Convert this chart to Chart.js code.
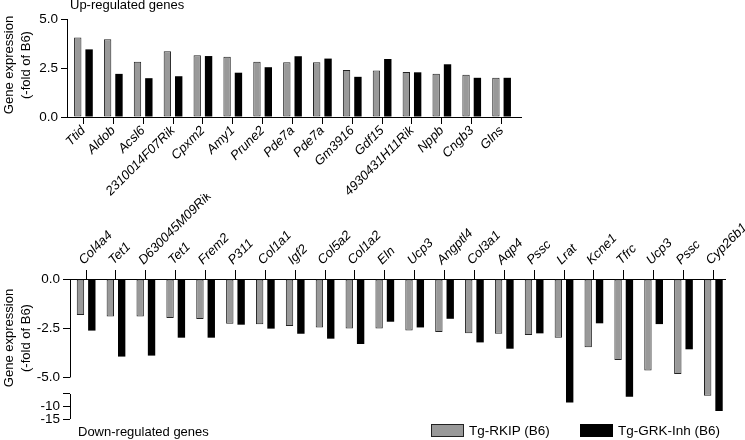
<!DOCTYPE html>
<html lang="en">
<head>
<meta charset="UTF-8">
<title>Up- and down-regulated genes</title>
<style>
  body { margin: 0; background: #fff; font-family: 'Liberation Sans', Arial, sans-serif; }
  .wrap { position: relative; width: 745px; height: 440px; overflow: hidden; }
  canvas { position: absolute; left: 0; top: 0; }
  .note { position: absolute; font-size: 13px; line-height: 15px; white-space: nowrap; color: #000; }
  .ytitle { position: absolute; width: 140px; height: 34px; font-size: 13px; line-height: 17px;
            text-align: center; white-space: nowrap; transform: rotate(-90deg); }
  .key { position: absolute; top: 423px; display: flex; align-items: center; font-size: 13.5px; line-height: 15px; white-space: nowrap; }
  .swatch { width: 31px; height: 11px; border: 1px solid #222; margin-right: 5px; }
</style>
<script src="https://cdn.jsdelivr.net/npm/chart.js"></script>
</head>
<body>
<div class="wrap">
  <canvas id="up" width="745" height="440"></canvas>
  <canvas id="down" width="745" height="440"></canvas>
  <div class="note" style="left:70px; top:-3px">Up-regulated genes</div>
  <div class="note" style="left:78px; top:424px">Down-regulated genes</div>
  <div class="ytitle" style="left:-53px; top:48px">Gene expression<br>(-fold of B6)</div>
  <div class="ytitle" style="left:-53px; top:321px">Gene expression<br>(-fold of B6)</div>
  <div class="key" style="left:431px"><span class="swatch" style="background:#999"></span>Tg-RKIP (B6)</div>
  <div class="key" style="left:580px"><span class="swatch" style="background:#000; border-color:#000"></span>Tg-GRK-Inh (B6)</div>
</div>

<script>
// up-regulated panel
const upGenes = ['Ttid', 'Aldob', 'Acsl6', '2310014F07Rik', 'Cpxm2', 'Amy1', 'Prune2', 'Pde7a', 'Pde7a',
  'Gm3916', 'Gdf15', '4930431H11Rik', 'Nppb', 'Cngb3', 'Glns'];
const upRkip = [4.06, 3.97, 2.82, 3.35, 3.15, 3.08, 2.82, 2.79, 2.79, 2.40, 2.37, 2.30, 2.21, 2.15, 2.00];
const upGrk = [3.45, 2.20, 1.98, 2.08, 3.11, 2.26, 2.54, 3.10, 2.98, 2.05, 2.96, 2.28, 2.69, 2.00, 2.00];
const upTicks = [0, 2.5, 5];
const upTickLabels = ['0.0', '2.5', '5.0'];

// down-regulated panel
const downGenes = ['Col4a4', 'Tet1', 'D630045M09Rik', 'Tet1', 'Frem2', 'P311', 'Col1a1', 'Igf2', 'Col5a2',
  'Col1a2', 'Eln', 'Ucp3', 'Angptl4', 'Col3a1', 'Aqp4', 'Pssc', 'Lrat', 'Kcne1', 'Tfrc', 'Ucp3', 'Pssc', 'Cyp26b1'];
const downRkip = [-1.83, -1.91, -1.91, -1.98, -2.03, -2.27, -2.30, -2.39, -2.46, -2.52, -2.52, -2.62, -2.69,
  -2.76, -2.78, -2.84, -2.98, -3.47, -4.11, -4.65, -4.82, -5.7];
const downGrk = [-2.62, -3.94, -3.89, -2.98, -2.98, -2.32, -2.52, -2.78, -3.03, -3.30, -2.17, -2.46, -2.02,
  -3.22, -3.54, -2.76, -8.4, -2.25, -6.1, -2.29, -3.57, -11.8];
const downTicks = [0, -2.5, -5, -10, -15];
const downTickLabels = ['0.0', '-2.5', '-5.0', '-10', '-15'];

// broken y axis: linear down to -5, a blank gap, then a squeezed -5..-15 segment
const BREAK_AT = -5;
const GAP = 0.84;
const LOW_K = 0.127;
const toAxis = v => v >= BREAK_AT ? v : BREAK_AT - GAP - (BREAK_AT - v) * LOW_K;
const fromAxis = d => d >= BREAK_AT ? d : BREAK_AT - (BREAK_AT - GAP - d) / LOW_K;

class BrokenScale extends Chart.LinearScale {
  getPixelForValue(v) { return super.getPixelForValue(v === null ? null : toAxis(v)); }
  getValueForPixel(p) { return fromAxis(super.getValueForPixel(p)); }
}
BrokenScale.id = 'broken';
BrokenScale.defaults = Chart.LinearScale.defaults;
Chart.register(BrokenScale);

const FONT = "'Liberation Sans', Arial, sans-serif";
const GRAY = '#999999';
const pts = arr => arr.map((v, i) => ({ x: i, y: v }));

function datasets(a, b) {
  return [
    { label: 'Tg-RKIP (B6)', data: pts(a), backgroundColor: GRAY, borderColor: '#222', borderWidth: 1, borderSkipped: false },
    { label: 'Tg-GRK-Inh (B6)', data: pts(b), backgroundColor: '#000', borderColor: '#000', borderWidth: 0 }
  ];
}

function xAxis(genes, min, max, pos, height, tick, pad, shift) {
  return {
    type: 'linear', position: pos, min: min, max: max, offset: false,
    afterBuildTicks: s => { s.ticks = genes.map((g, i) => ({ value: i })); },
    afterFit: s => { s.height = height; s.paddingLeft = 0; s.paddingRight = 0; },
    ticks: {
      autoSkip: false, minRotation: 45, maxRotation: 45, padding: pad, labelOffset: shift, color: '#000',
      font: { family: FONT, size: 13, style: 'italic' },
      callback: v => genes[v]
    },
    grid: { offset: false, drawOnChartArea: false, drawTicks: true, tickLength: tick, color: '#000' },
    border: { display: true, color: '#000', width: 1 }
  };
}

const common = {
  responsive: false, animation: false, events: [],
  plugins: { legend: { display: false }, tooltip: { enabled: false } },
  datasets: { bar: { categoryPercentage: 0.76, barPercentage: 0.65 } }
};

new Chart(document.getElementById('up'), {
  type: 'bar',
  data: { datasets: datasets(upRkip, upGrk) },
  options: Object.assign({}, common, {
    layout: { padding: { left: 0, top: 19, right: 224, bottom: 440 - 117 - 90 } },
    scales: {
      x: xAxis(upGenes, -0.55, 14.65, 'bottom', 90, 7, -1, 0),
      y: {
        min: 0, max: 5,
        afterBuildTicks: s => { s.ticks = upTicks.map(v => ({ value: v })); },
        afterFit: s => { s.width = 67; s.paddingTop = 0; s.paddingBottom = 0; },
        ticks: {
          autoSkip: false, padding: 3, color: '#000', font: { family: FONT, size: 13.5 },
          callback: v => upTickLabels[upTicks.indexOf(v)]
        },
        grid: { drawOnChartArea: false, tickLength: 6, color: '#000' },
        border: { display: true, color: '#000', width: 1 }
      }
    }
  })
});

const brokenAxisLine = {
  id: 'brokenAxisLine',
  afterDraw(chart) {
    const y = chart.scales.y;
    const ctx = chart.ctx;
    const x0 = Math.round(chart.chartArea.left) + 0.5;
    const lowest = downTicks[downTicks.length - 1];
    ctx.save();
    ctx.strokeStyle = '#000';
    ctx.lineWidth = 1;
    ctx.beginPath();
    ctx.moveTo(x0, y.getPixelForValue(0));
    ctx.lineTo(x0, y.getPixelForValue(BREAK_AT));
    ctx.moveTo(x0, y.getPixelForValue(BREAK_AT - 1e-6));
    ctx.lineTo(x0, y.getPixelForValue(lowest));
    ctx.stroke();
    ctx.restore();
  }
};

new Chart(document.getElementById('down'), {
  type: 'bar',
  data: { datasets: datasets(downRkip, downGrk) },
  options: Object.assign({}, common, {
    layout: { padding: { left: 0, top: 279 - 85, right: 20, bottom: 21 } },
    scales: {
      x: xAxis(downGenes, -0.54, 21.39, 'top', 85, 9, 2, 6),
      y: {
        type: 'broken', min: toAxis(-15), max: 0,
        afterBuildTicks: s => {
          // extra unlabeled tick caps the top of the lower segment
          s.ticks = downTicks.concat([BREAK_AT - 1e-6]).map(v => ({ value: v }));
        },
        afterFit: s => { s.width = 70; s.paddingTop = 0; s.paddingBottom = 0; },
        ticks: {
          autoSkip: false, padding: 3, color: '#000', font: { family: FONT, size: 13.5 },
          callback: v => { const k = downTicks.indexOf(v); return k < 0 ? '' : downTickLabels[k]; }
        },
        grid: { drawOnChartArea: false, tickLength: 7, color: '#000' },
        border: { display: false }
      }
    }
  }),
  plugins: [brokenAxisLine]
});
</script>
</body>
</html>
